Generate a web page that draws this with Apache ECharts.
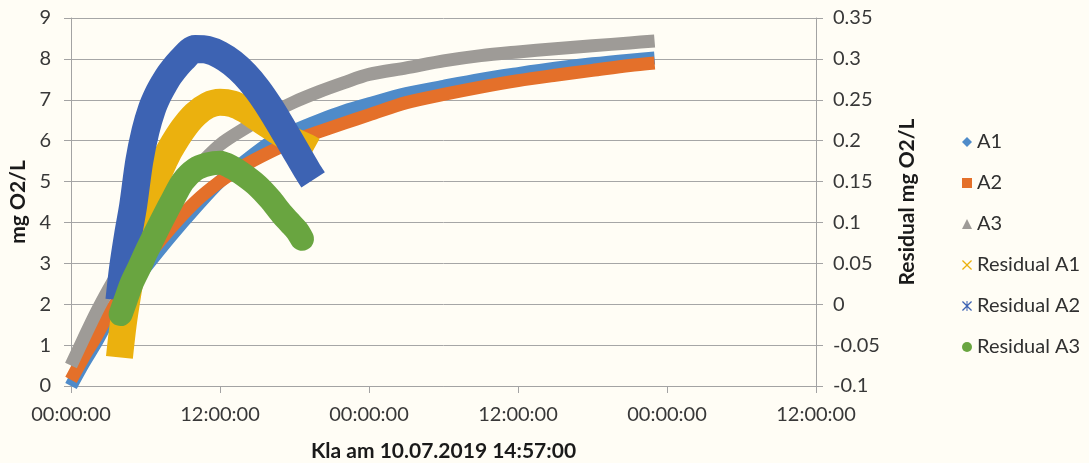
<!DOCTYPE html>
<html>
<head>
<meta charset="utf-8">
<script src="https://cdn.jsdelivr.net/npm/echarts@6/dist/echarts.min.js"></script>
<style>
  html, body { margin: 0; padding: 0; background: #fffdf5; }
  #chart { width: 1089px; height: 463px; }
</style>
</head>
<body>
<div id="chart"></div>
<script>
// Elapsed time in hours since 00:00:00 for the oxygen curves
const tA = [0, 1, 2, 3, 4, 5, 6, 8, 10, 12, 14, 16, 18, 20, 22, 24, 27, 30, 33, 36, 39, 42, 45, 47];
// Dissolved oxygen, mg O2/L
const a1 = [0.0, 0.55, 1.05, 1.6, 2.05, 2.5, 2.9, 3.65, 4.35, 5.0, 5.5, 5.95, 6.25, 6.5, 6.72, 6.9, 7.15, 7.33, 7.5, 7.64, 7.77, 7.88, 7.97, 8.02];
const a2 = [0.15, 0.7, 1.2, 1.75, 2.2, 2.65, 3.1, 3.85, 4.5, 5.0, 5.4, 5.72, 6.0, 6.22, 6.43, 6.63, 6.93, 7.13, 7.31, 7.47, 7.6, 7.72, 7.84, 7.9];
const a3 = [0.5, 1.15, 1.78, 2.35, 2.88, 3.38, 3.82, 4.6, 5.3, 5.9, 6.3, 6.65, 6.95, 7.2, 7.42, 7.62, 7.78, 7.95, 8.08, 8.17, 8.25, 8.32, 8.39, 8.44];

// Residuals of the fits, mg O2/L
const tRes = [3.9, 4.2, 4.6, 5.0, 5.5, 6.0, 6.5, 7.0, 7.5, 8.0, 9.0, 10, 11, 12, 13, 14, 15, 16, 17, 18, 19, 19.5];
const resA1 = [-0.065, -0.025, 0.015, 0.05, 0.085, 0.115, 0.138, 0.158, 0.175, 0.19, 0.214, 0.232, 0.243, 0.247, 0.245, 0.238, 0.228, 0.218, 0.208, 0.199, 0.192, 0.188];
const resA2 = [0.005, 0.045, 0.085, 0.12, 0.175, 0.212, 0.238, 0.256, 0.27, 0.282, 0.3, 0.312, 0.311, 0.305, 0.295, 0.281, 0.263, 0.241, 0.216, 0.19, 0.164, 0.152];
const tResA3 = [4.0, 4.4, 4.9, 5.5, 6.0, 6.8, 7.5, 8.2, 9.0, 10.0, 11.0, 12.0, 13.0, 14.0, 15.0, 16.0, 17.0, 17.6, 18.2, 18.6];
const resA3 = [-0.012, 0.005, 0.026, 0.045, 0.062, 0.087, 0.108, 0.128, 0.15, 0.165, 0.171, 0.173, 0.167, 0.157, 0.145, 0.129, 0.11, 0.1, 0.09, 0.08];

// Time-of-day tick labels every 12 hours
const xTickLabels = ['00:00:00', '12:00:00', '00:00:00', '12:00:00', '00:00:00', '12:00:00'];

const colors = {
  a1: '#4f8bc9', a2: '#e4702a', a3: '#9e9b97',
  r1: '#ebb10e', r2: '#3d63b3', r3: '#69a540'
};

const FONT = 'Lato';
const pair = (xs, ys) => xs.map((x, i) => [x, ys[i]]);

// Legend glyphs: thin cross and six-armed asterisk
const crossIcon = 'path://M0,9L9,0L50,41L91,0L100,9L59,50L100,91L91,100L50,59L9,100L0,91L41,50Z';
const starIcon = 'path://M0,9L9,0L50,41L91,0L100,9L59,50L100,91L91,100L50,59L9,100L0,91L41,50Z M45,0L55,0L55,100L45,100Z';

function curve(name, xs, ys, color, width, axis, cap) {
  return {
    name, type: 'line', yAxisIndex: axis,
    data: pair(xs, ys),
    smooth: 0.3,
    symbol: 'none', showSymbol: false,
    itemStyle: { color },
    lineStyle: { color, width, cap: cap || 'butt', join: 'round' },
    emphasis: { disabled: true },
    animation: false
  };
}

const chart = echarts.init(document.getElementById('chart'), null, { renderer: 'canvas' });
chart.setOption({
  backgroundColor: '#fffdf5',
  animation: false,
  textStyle: { fontFamily: FONT },
  grid: {
    left: 71, top: 18, width: 745, height: 368,
    containLabel: false, outerBoundsMode: 'none'
  },
  legend: {
    orient: 'vertical',
    left: 957, top: 127,
    itemWidth: 10, itemHeight: 10,
    itemGap: 21,
    selectedMode: false,
    itemStyle: { borderWidth: 0 },
    textStyle: { fontFamily: FONT, fontSize: 20, color: '#303030', lineHeight: 20 },
    data: [
      { name: 'A1', icon: 'diamond' },
      { name: 'A2', icon: 'rect' },
      { name: 'A3', icon: 'triangle' },
      { name: 'Residual A1', icon: crossIcon },
      { name: 'Residual A2', icon: starIcon },
      { name: 'Residual A3', icon: 'circle' }
    ]
  },
  xAxis: {
    type: 'value', min: 0, max: 60, interval: 12,
    name: 'Kla am 10.07.2019 14:57:00',
    nameLocation: 'middle', nameGap: 55,
    nameTextStyle: { fontFamily: FONT, fontSize: 21, fontWeight: 'bold', color: '#1a1a1a' },
    axisLine: { show: true, lineStyle: { color: '#a3a3a3', width: 1 } },
    axisTick: { show: true, length: 7, lineStyle: { color: '#a3a3a3' } },
    axisLabel: {
      margin: 19, fontSize: 20, color: '#383838', fontFamily: FONT,
      formatter: v => xTickLabels[Math.round(v / 12)]
    },
    splitLine: { show: false }
  },
  yAxis: [
    {
      type: 'value', min: 0, max: 9, interval: 1, position: 'left',
      name: 'mg O2/L', nameLocation: 'middle', nameRotate: 90, nameGap: 42,
      nameTextStyle: { fontFamily: FONT, fontSize: 21, fontWeight: 'bold', color: '#1a1a1a' },
      axisLine: { show: true, lineStyle: { color: '#a3a3a3', width: 1 } },
      axisTick: { show: true, length: 7, lineStyle: { color: '#a3a3a3' } },
      axisLabel: { margin: 20, fontSize: 20, color: '#383838', fontFamily: FONT },
      splitLine: { show: true, lineStyle: { color: '#a6a6a6', width: 1 } }
    },
    {
      type: 'value', min: -0.1, max: 0.35, interval: 0.05, position: 'right',
      name: 'Residual mg O2/L', nameLocation: 'middle', nameRotate: 90, nameGap: 81,
      nameTextStyle: { fontFamily: FONT, fontSize: 21, fontWeight: 'bold', color: '#1a1a1a' },
      axisLine: { show: true, lineStyle: { color: '#a3a3a3', width: 1 } },
      axisTick: { show: true, length: 7, lineStyle: { color: '#a3a3a3' } },
      axisLabel: {
        margin: 17, fontSize: 20, color: '#383838', fontFamily: FONT,
        formatter: v => String(+v.toFixed(2))
      },
      splitLine: { show: false }
    }
  ],
  series: [
    curve('A1', tA, a1, colors.a1, 13, 0),
    curve('A2', tA, a2, colors.a2, 13, 0),
    curve('A3', tA, a3, colors.a3, 13, 0),
    curve('Residual A1', tRes, resA1, colors.r1, 27, 1),
    curve('Residual A2', tRes, resA2, colors.r2, 28, 1),
    curve('Residual A3', tResA3, resA3, colors.r3, 24, 1, 'round')
  ]
});
</script>
</body>
</html>
